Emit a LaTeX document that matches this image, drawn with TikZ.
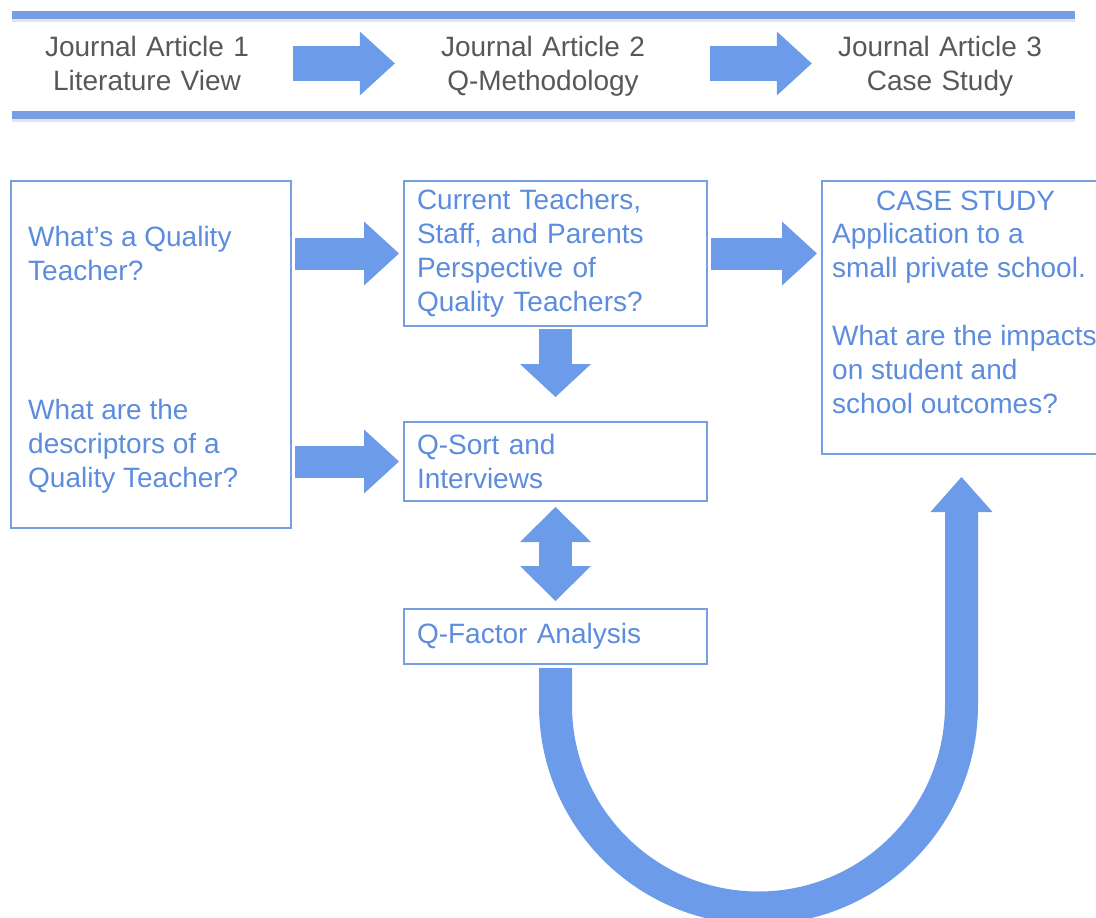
\documentclass[tikz,border=0pt]{standalone}
\usepackage{fontspec}
\setmainfont{Liberation Sans}
\usetikzlibrary{arrows.meta, positioning, calc}
\definecolor{arrowblue}{RGB}{108,155,234}
\definecolor{textblue}{RGB}{92,140,222}
\definecolor{lineblue}{RGB}{118,158,226}
\definecolor{headgray}{RGB}{88,88,88}

\begin{document}
\begin{tikzpicture}[
	x=1pt, y=1pt,
	every node/.style={font=\fontsize{28}{34}\selectfont},
	heading/.style={text=headgray, align=center, text width=214pt, inner sep=0pt, anchor=north},
	box/.style={draw=lineblue, line width=2pt, anchor=north west},
	boxtext/.style={text=textblue, align=left, inner sep=0pt, anchor=north west},
	stage/.style={box, text=textblue, align=left, minimum width=303pt, text width=277pt, inner xsep=13pt},
	arrow/.style={draw=arrowblue, line width=32pt, -{Triangle[length=35pt, width=64pt, line width=0pt]}},
	twoway/.style={draw=arrowblue, line width=33pt, {Triangle[length=35pt, width=71pt, line width=0pt]}-{Triangle[length=35pt, width=71pt, line width=0pt]}}
	]
	\useasboundingbox (0,0) rectangle (1096,-918);
	
	% Article band
	\draw[black!10, line width=6pt] (12,-19) -- (1075,-19);
	\draw[black!10, line width=6pt] (12,-119) -- (1075,-119);
	\draw[lineblue, line width=8pt] (12,-15) -- (1075,-15);
	\draw[lineblue, line width=8pt] (12,-115) -- (1075,-115);
	\node[heading] (art1) at (147,-36) {Journal Article 1\\Literature View};
	\node[heading] (art2) at (543,-36) {Journal Article 2\\Q-Methodology};
	\node[heading] (art3) at (940,-36) {Journal Article 3\\Case Study};
	
	% Left box (questions)
	\node[box, minimum width=280pt, minimum height=347pt] (lbox) at (10,-180) {};
	\node[boxtext] (q1) at ([shift={(18pt,-46pt)}]lbox.north west) {What’s a Quality\\Teacher?};
	\node[boxtext] (q2) at ([shift={(18pt,-219pt)}]lbox.north west) {What are the\\descriptors of a\\Quality Teacher?};
	
	% Middle column
	\node[stage, minimum height=145pt] (persp) at (403,-180) {Current Teachers,\\Staff, and Parents\\Perspective of\\Quality Teachers?};
	\node[stage, minimum height=79pt, below=94pt of persp] (qsort) {Q-Sort and\\Interviews};
	\node[stage, minimum height=55pt, below=106pt of qsort] (qfa) {Q-Factor Analysis};
	
	% Right box (case study)
	\node[box, minimum width=279pt, minimum height=273pt, right=113pt of persp.north east, anchor=north west] (case) {};
	\node[boxtext, anchor=north, align=center] (casehead) at ([xshift=4pt, yshift=-11pt]case.north) {CASE STUDY};
	\node[boxtext] (casebody) at ([shift={(11pt,-43pt)}]case.north west) {Application to a\\small private school.\\[34pt]What are the impacts\\on student and\\school outcomes?};
	
	% Connections
	\draw[arrow, line width=35pt, shorten <=39pt, shorten >=41pt] (art1.east) -- (art1.east -| art2.west);
	\draw[arrow, line width=35pt, shorten <=60pt, shorten >=21pt] (art1.east -| art2.east) -- (art1.east -| art3.west);
	\draw[arrow, shorten <=3pt, shorten >=4pt] (lbox.east |- persp.west) -- (persp.west);
	\draw[arrow, shorten <=3pt, shorten >=4pt] (lbox.east |- qsort.west) -- (qsort.west);
	\draw[arrow, shorten <=3pt, shorten >=4pt] (persp.east) -- (persp.east -| case.west);
	\draw[arrow, line width=33pt, -{Triangle[length=33pt, width=71pt, line width=0pt]}, shorten <=2pt, shorten >=24pt] (persp.south) -- (qsort.north);
	\draw[twoway, shorten <=5pt, shorten >=7pt] (qsort.south) -- (qfa.north);
	\draw[arrow, line width=33pt, -{Triangle[length=35pt, width=62pt, line width=0pt]}, shorten <=3pt, shorten >=22pt]
		let \p1=(qfa.south), \p2=(case.south) in
		(\p1) -- ++(0,-40) arc[start angle=180, end angle=360, radius={(\x2-\x1)/2}] -- (\p2);
	
\end{tikzpicture}
\end{document}
